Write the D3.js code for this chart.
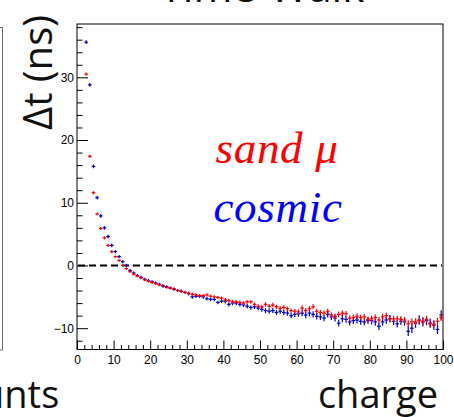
<!DOCTYPE html>
<html>
<head>
<meta charset="utf-8">
<script src="https://cdn.jsdelivr.net/npm/d3@7"></script>
<style>
  html, body { margin: 0; padding: 0; background: #fff; }
  svg { display: block; }
</style>
</head>
<body>
<svg id="chart" width="454" height="417"></svg>
<script>
// ---- data ----
const binCenters = d3.range(2.5, 100, 1); // 2.5 ... 99.5
const sandMu = [30.5, 17.4, 11.6, 8.2, 5.9, 4.4, 3.2, 2.2, 1.4, 0.8,
  0.0, -0.5, -1.0, -1.4, -1.7, -2.0, -2.3, -2.5, -2.7, -2.9,
  -3.1, -3.2, -3.5, -3.6, -3.7, -4.0, -4.1, -4.3, -4.4, -4.6,
  -4.7, -4.8, -4.8, -4.7, -4.9, -5.0, -5.1, -5.2, -5.5, -5.6,
  -5.8, -5.8, -5.9, -6.0, -5.8, -5.8, -6.2, -6.5, -6.6, -6.2,
  -6.5, -6.3, -6.6, -6.8, -6.7, -6.9, -7.2, -7.3, -7.4, -6.8,
  -7.2, -6.9, -6.6, -7.3, -7.5, -7.6, -7.3, -7.9, -8.1, -7.8,
  -7.6, -7.7, -8.4, -8.3, -8.1, -8.3, -8.2, -8.6, -8.5, -8.3,
  -8.7, -8.2, -8.0, -8.5, -8.5, -8.5, -8.6, -8.7, -9.3, -9.0,
  -9.0, -8.8, -8.9, -8.6, -9.3, -9.4, -8.9, -8.3];
const cosmic = [35.6, 28.8, 15.8, 10.8, 7.9, 6.0, 4.6, 3.2, 2.2, 1.4,
  0.6, 0.0, -0.8, -1.2, -1.6, -1.9, -2.2, -2.4, -2.6, -2.8,
  -3.0, -3.3, -3.4, -3.6, -3.8, -4.0, -4.1, -4.3, -4.5, -5.0,
  -4.9, -4.9, -5.0, -5.3, -5.4, -5.4, -5.9, -5.7, -5.7, -6.2,
  -6.0, -6.0, -6.2, -6.3, -6.5, -6.7, -6.6, -6.8, -7.0, -7.2,
  -7.3, -7.2, -7.5, -7.3, -7.5, -7.6, -8.0, -7.8, -7.7, -7.6,
  -7.9, -7.6, -7.8, -8.1, -8.2, -8.4, -7.8, -8.2, -8.4, -9.2,
  -8.5, -8.6, -9.0, -8.8, -8.7, -8.9, -9.0, -8.8, -8.8, -9.0,
  -9.7, -9.0, -8.7, -8.5, -8.9, -9.3, -8.9, -9.0, -10.5, -10.0,
  -9.2, -8.7, -9.0, -8.8, -9.2, -9.5, -10.2, -7.9];
// statistical error per decade of charge (0-10, 10-20, ... 90-100)
const sandMuErr = [0.25, 0.2, 0.2, 0.25, 0.3, 0.35, 0.4, 0.45, 0.5, 0.55];
const cosmicErr = [0.3, 0.25, 0.25, 0.3, 0.35, 0.4, 0.5, 0.55, 0.6, 0.75];
const xTicks = [0, 10, 20, 30, 40, 50, 60, 70, 80, 90, 100];
const yTicks = [-10, 0, 10, 20, 30];
const seriesNames = ["sand \u03bc", "cosmic"];
const seriesColors = ["#ff0000", "#0000c8"];
const labelColors = ["#ff0000", "#0000ff"];

// ---- layout ----
const svg = d3.select("#chart");
const L = 77, R = 443, T = 24, B = 349.5;
const x = d3.scaleLinear().domain([0, 100]).range([L, R]);
const y = d3.scaleLinear().domain([-13.4, 38.5]).range([B, T]);

// adjacent panel remnants
svg.append("path")
  .attr("d", `M0,27.5 H2.5 V350 H0`)
  .attr("fill", "none").attr("stroke", "#666").attr("stroke-width", 1);
svg.append("text").text("unts")
  .attr("x", -19).attr("y", 408)
  .attr("font-family", "Open Sans").attr("font-size", 38).attr("fill", "#111");

// title (cut off at top)
svg.append("text").text("Time-Walk")
  .attr("x", 262).attr("y", 2).attr("text-anchor", "middle")
  .attr("font-family", "Open Sans").attr("font-size", 42).attr("fill", "#111");

// frame
svg.append("rect").attr("x", L).attr("y", T).attr("width", R - L).attr("height", B - T)
  .attr("fill", "none").attr("stroke", "#000").attr("stroke-width", 1);

// axes
const fontTick = "Liberation Sans";
const xMinor = d3.range(0, 101, 2).filter(v => v % 10 !== 0);
const yMinor = d3.range(-12, 39, 2).filter(v => v % 10 !== 0);

svg.append("g").attr("transform", `translate(0,${B})`)
  .call(d3.axisBottom(x).tickValues(xTicks).tickSize(-9).tickPadding(6).tickFormat(d3.format("d")));
svg.append("g").attr("transform", `translate(0,${B})`)
  .call(d3.axisBottom(x).tickValues(xMinor).tickSize(-4.5).tickFormat(""));
svg.append("g").attr("transform", `translate(${L},0)`)
  .call(d3.axisLeft(y).tickValues(yTicks).tickSize(-11).tickPadding(3).tickFormat(d3.format("d")));
svg.append("g").attr("transform", `translate(${L},0)`)
  .call(d3.axisLeft(y).tickValues(yMinor).tickSize(-5.5).tickFormat(""));
svg.selectAll(".domain").remove();
svg.selectAll(".tick line").attr("stroke", "#000");
svg.selectAll(".tick text").attr("font-family", fontTick).attr("font-size", 12).attr("fill", "#000");

// zero line
svg.append("line").attr("x1", L + 1).attr("x2", R - 1).attr("y1", y(0)).attr("y2", y(0))
  .attr("stroke", "#000").attr("stroke-width", 2).attr("stroke-dasharray", "7,4");

// data points
function drawSeries(values, errs, color) {
  const g = svg.append("g");
  const pts = values.map((v, i) => ({ cx: binCenters[i], v, e: errs[Math.min(9, Math.floor(binCenters[i] / 10))] }));
  g.selectAll("line.h").data(pts).enter().append("line")
    .attr("x1", d => x(d.cx - 0.5)).attr("x2", d => x(d.cx + 0.5))
    .attr("y1", d => y(d.v)).attr("y2", d => y(d.v))
    .attr("stroke", color).attr("stroke-width", 1.2);
  g.selectAll("line.v").data(pts).enter().append("line")
    .attr("x1", d => x(d.cx)).attr("x2", d => x(d.cx))
    .attr("y1", d => y(d.v - d.e)).attr("y2", d => y(d.v + d.e))
    .attr("stroke", color).attr("stroke-width", 1.2);
}
drawSeries(cosmic, cosmicErr, seriesColors[1]);
drawSeries(sandMu, sandMuErr, seriesColors[0]);

// legend-like labels
svg.append("text").text(seriesNames[0]).attr("x", 277).attr("y", 163).attr("text-anchor", "middle")
  .attr("font-family", "Liberation Serif").attr("font-style", "italic").attr("font-size", 45)
  .attr("letter-spacing", 0.7).attr("fill", labelColors[0]);
svg.append("text").text(seriesNames[1]).attr("x", 278).attr("y", 222).attr("text-anchor", "middle")
  .attr("font-family", "Liberation Serif").attr("font-style", "italic").attr("font-size", 45)
  .attr("letter-spacing", 0.7).attr("fill", labelColors[1]);

// axis titles
svg.append("text").text("charge").attr("x", 438).attr("y", 408).attr("text-anchor", "end")
  .attr("font-family", "Open Sans").attr("font-size", 38).attr("fill", "#111");
svg.append("text").text("\u0394t (ns)")
  .attr("transform", `translate(52,130) rotate(-90)`)
  .attr("font-family", "Open Sans").attr("font-size", 40).attr("fill", "#111");
</script>
</body>
</html>
